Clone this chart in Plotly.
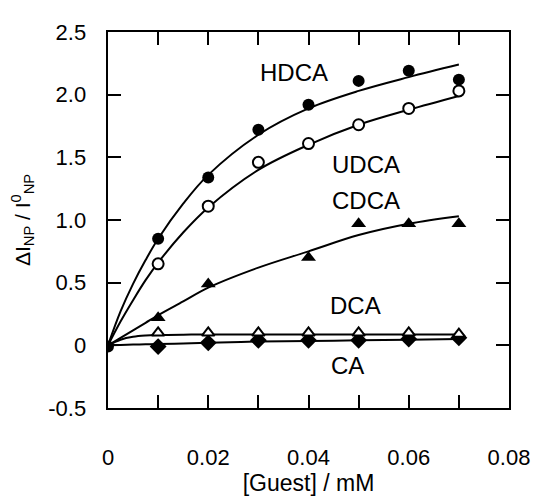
import plotly.graph_objects as go

# measured points
conc = [0.01, 0.02, 0.03, 0.04, 0.05, 0.06, 0.07]
hdca = [0.85, 1.34, 1.72, 1.92, 2.11, 2.19, 2.12]
udca = [0.65, 1.11, 1.46, 1.61, 1.76, 1.89, 2.03]
cdca_x = [0.01, 0.02, 0.04, 0.05, 0.06, 0.07]
cdca = [0.22, 0.49, 0.70, 0.97, 0.97, 0.97]
dca = [0.10, 0.10, 0.10, 0.10, 0.10, 0.10, 0.09]
ca = [-0.01, 0.02, 0.04, 0.04, 0.04, 0.05, 0.06]
origin_x = [0.0]
origin_y = [-0.01]

# fitted curves
fit_x = [0.0, 0.0025, 0.005, 0.0075, 0.01, 0.015, 0.02, 0.03, 0.04, 0.05, 0.06, 0.07]
hdca_fit = [0.0, 0.27, 0.49, 0.68, 0.85, 1.13, 1.36, 1.68, 1.89, 2.03, 2.14, 2.24]
udca_fit = [0.0, 0.19, 0.36, 0.52, 0.66, 0.90, 1.10, 1.40, 1.60, 1.76, 1.88, 1.99]
cdca_fit = [0.0, 0.06, 0.12, 0.18, 0.24, 0.35, 0.46, 0.62, 0.75, 0.88, 0.97, 1.03]
dca_fit = [0.0, 0.045, 0.068, 0.078, 0.082, 0.085, 0.086, 0.086, 0.086, 0.086, 0.086, 0.086]
ca_fit = [0.0, 0.003, 0.006, 0.008, 0.01, 0.015, 0.02, 0.03, 0.035, 0.04, 0.045, 0.05]

labels = ["HDCA", "UDCA", "CDCA", "DCA", "CA"]
label_x = [0.0371, 0.0515, 0.0515, 0.0494, 0.0477]
label_y = [2.175, 1.445, 1.155, 0.32, -0.16]

x_tickvals = [0, 0.01, 0.02, 0.03, 0.04, 0.05, 0.06, 0.07, 0.08]
x_ticktext = ["0", "", "0.02", "", "0.04", "", "0.06", "", "0.08"]
y_tickvals = [-0.5, 0, 0.5, 1.0, 1.5, 2.0, 2.5]
y_ticktext = ["-0.5", "0", "0.5", "1.0", "1.5", "2.0", "2.5"]

X_RANGE = [0, 0.08]
Y_RANGE = [-0.5, 2.5]

# label spacing away from the axes (kept out of the data lists)
X_LABEL_PAD = "<br>"
Y_LABEL_PAD = "\u2002\u2009"

fig = go.Figure()
line = dict(color="black", width=2)
for fy in [ca_fit, dca_fit, cdca_fit, udca_fit, hdca_fit]:
    fig.add_trace(go.Scatter(x=fit_x, y=fy, mode="lines", line=dict(color="black", width=2, shape="spline"),
                             hoverinfo="skip"))

fig.add_trace(go.Scatter(x=conc, y=ca, mode="markers",
                         marker=dict(symbol="diamond", size=13, color="black")))
fig.add_trace(go.Scatter(x=conc, y=dca, mode="markers",
                         marker=dict(symbol="triangle-up", size=11, color="white", line=line)))
fig.add_trace(go.Scatter(x=cdca_x, y=cdca, mode="markers",
                         marker=dict(symbol="triangle-up", size=13, color="black")))
fig.add_trace(go.Scatter(x=conc, y=udca, mode="markers",
                         marker=dict(symbol="circle", size=11, color="white", line=line)))
fig.add_trace(go.Scatter(x=conc, y=hdca, mode="markers",
                         marker=dict(symbol="circle", size=12, color="black")))
fig.add_trace(go.Scatter(x=origin_x, y=origin_y, mode="markers",
                         marker=dict(symbol="circle", size=12, color="black")))

for t, lx, ly in zip(labels, label_x, label_y):
    fig.add_annotation(x=lx, y=ly, text=t, showarrow=False,
                       font=dict(size=24, color="black", family="Liberation Sans, Arial"))

font = dict(family="Liberation Sans, Arial", size=22, color="black")
fig.update_layout(
    width=534, height=496,
    margin=dict(l=100, r=22, t=12, b=89),
    paper_bgcolor="white", plot_bgcolor="white",
    showlegend=False,
    font=font,
    xaxis=dict(range=X_RANGE, tickvals=x_tickvals,
               ticktext=[(X_LABEL_PAD + s) if s else s for s in x_ticktext],
               ticks="inside", ticklen=13, tickwidth=2, tickcolor="black",
               showline=True, linewidth=2, linecolor="black", mirror="ticks",
               showgrid=False, zeroline=False,
               title=dict(text="[Guest] / mM", standoff=6, font=dict(size=23))),
    yaxis=dict(range=Y_RANGE, tickvals=y_tickvals,
               ticktext=[s + Y_LABEL_PAD for s in y_ticktext],
               ticks="inside", ticklen=13, tickwidth=2, tickcolor="black",
               showline=True, linewidth=2, linecolor="black", mirror="ticks",
               showgrid=False, zeroline=False,
               title=dict(text="ΔI<sub>NP</sub> / I<sup>0</sup><sub>NP</sub>", standoff=12, font=dict(size=21))),
)

fig.write_html("out.html")
